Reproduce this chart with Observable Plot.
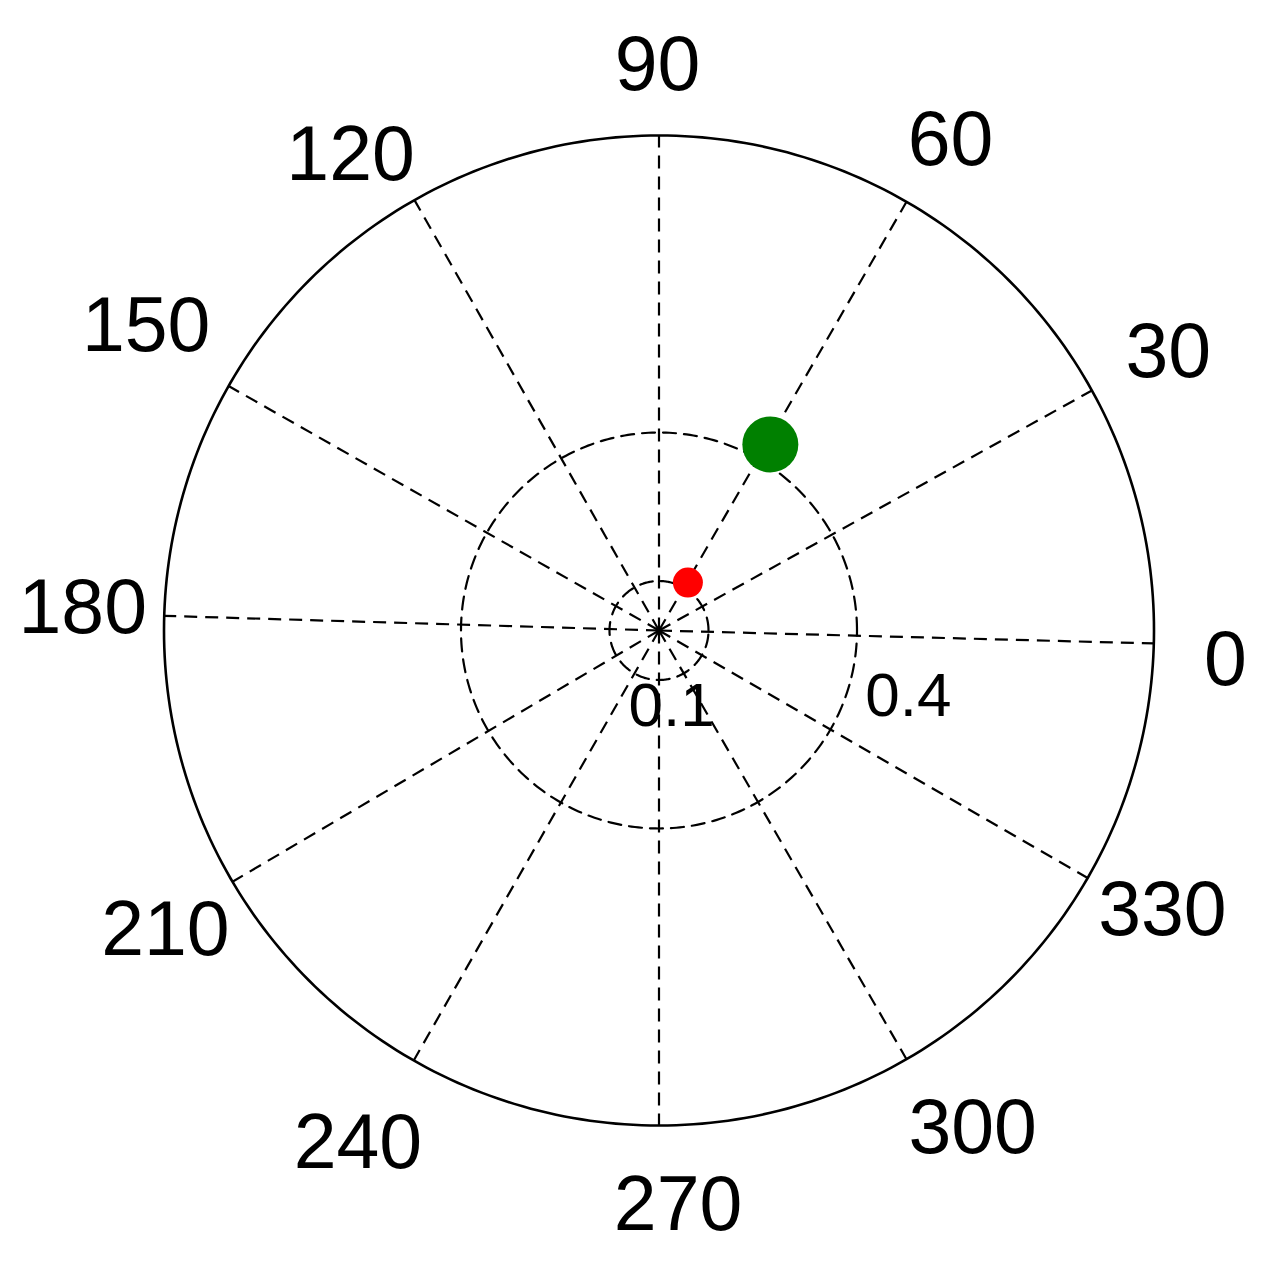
<!DOCTYPE html>
<html>
<head>
<meta charset="utf-8">
<script src="https://cdn.jsdelivr.net/npm/d3@7"></script>
<script src="https://cdn.jsdelivr.net/npm/@observablehq/plot@0.6"></script>
<style>
  html, body { margin: 0; padding: 0; background: #fff; }
  #chart svg { display: block; }
</style>
</head>
<body>
<div id="chart"></div>
<script>
// ---- data ----
const tickLabels   = ["0", "30", "60", "90", "120", "150", "180", "210", "240", "270", "300", "330"];
const spokeAngles  = [-1.5, 29, 60, 90, 119.6, 150.4, 178.3, 210.5, 240.3, 270, 300, 330];
const labelAngles  = [-3.0, 28.6, 59.25, 90.15, 123, 149.3, 177.8, 211.3, 239.6, 271.9, 302.2, 330.9];
const labelRadii   = [1.146, 1.172, 1.152, 1.141, 1.144, 1.205, 1.165, 1.167, 1.202, 1.162, 1.189, 1.164];
const ringValues   = [0.1, 0.4];
const outerRadius  = 1.0;
const ringLabels   = ["0.1", "0.4"];
const ringLabelAng = [-80.5, -14.8];
const ringLabelDst = [0.154, 0.521];
const seriesTheta  = [59.1, 58.9];
const seriesRho    = [0.438, 0.113];
const seriesName   = ["green", "red"];

// ---- helpers ----
const rad = a => a * Math.PI / 180;
const px = (r, a) => r * Math.cos(rad(a));
const py = (r, a) => r * Math.sin(rad(a));
const circleSteps = d3.range(0, 361, 1);

const ringPaths = ringValues.flatMap(r => circleSteps.map(a => ({r, a})));
const outerPath = circleSteps.map(a => ({r: outerRadius, a}));
const spokes = spokeAngles.map(a => ({a}));
const labels = tickLabels.map((t, i) => ({t, a: labelAngles[i], r: labelRadii[i]}));
const rLabels = ringLabels.map((t, i) => ({t, a: ringLabelAng[i], r: ringLabelDst[i]}));
const points = seriesName.map((s, i) => ({s, a: seriesTheta[i], r: seriesRho[i]}));

const W = 1278, H = 1264;
const cx = 658.5, cy = 630, unit = 495;

const chart = Plot.plot({
  width: W,
  height: H,
  margin: 0,
  x: {domain: [-cx / unit, (W - cx) / unit], axis: null},
  y: {domain: [-(H - cy) / unit, cy / unit], axis: null},
  style: {fontFamily: "'Liberation Sans', Arial, sans-serif", background: "#fff"},
  marks: [
    Plot.link(spokes, {
      x1: 0, y1: 0,
      x2: d => px(outerRadius, d.a), y2: d => py(outerRadius, d.a),
      stroke: "#000", strokeWidth: 2.2, strokeDasharray: "13,8"
    }),
    Plot.line(ringPaths, {
      x: d => px(d.r, d.a), y: d => py(d.r, d.a), z: "r",
      stroke: "#000", strokeWidth: 2.2, strokeDasharray: "13,8"
    }),
    Plot.line(outerPath, {
      x: d => px(d.r, d.a), y: d => py(d.r, d.a),
      stroke: "#000", strokeWidth: 2.6
    }),
    Plot.text(labels, {
      x: d => px(d.r, d.a), y: d => py(d.r, d.a), text: "t",
      fontSize: 77, fill: "#000", textAnchor: "middle", lineAnchor: "middle"
    }),
    Plot.text(rLabels, {
      x: d => px(d.r, d.a), y: d => py(d.r, d.a), text: "t",
      fontSize: 62, fill: "#000", textAnchor: "middle", lineAnchor: "middle"
    }),
    Plot.dot(points.filter(d => d.s === "green"), {
      x: d => px(d.r, d.a), y: d => py(d.r, d.a),
      r: 28, fill: "#008000", stroke: "none"
    }),
    Plot.dot(points.filter(d => d.s === "red"), {
      x: d => px(d.r, d.a), y: d => py(d.r, d.a),
      r: 15, fill: "#ff0000", stroke: "none"
    })
  ]
});
document.getElementById("chart").appendChild(chart);
</script>
</body>
</html>
